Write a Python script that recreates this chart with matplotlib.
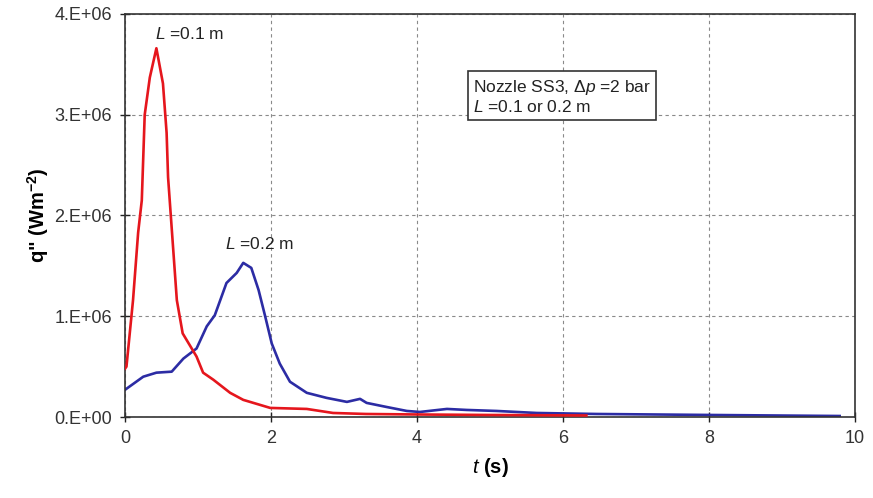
import matplotlib
matplotlib.use("Agg")
import matplotlib.pyplot as plt

plt.rcParams['font.family'] = ['Liberation Sans', 'DejaVu Sans']
plt.rcParams['mathtext.fontset'] = 'custom'
plt.rcParams['mathtext.rm'] = 'Liberation Sans'
plt.rcParams['mathtext.it'] = 'Liberation Sans:italic'
plt.rcParams['mathtext.bf'] = 'Liberation Sans:bold'

# Heat flux histories, L = 0.1 m
t_short = [0.0, 0.02, 0.11, 0.18, 0.23, 0.27, 0.34, 0.43, 0.52, 0.57, 0.59,
           0.71, 0.79, 0.98, 1.07, 1.21, 1.44, 1.62, 1.99, 2.49, 2.85, 3.3,
           4.0, 5.0, 6.32]
q_short = [0.48e6, 0.5e6, 1.16e6, 1.83e6, 2.15e6, 3.0e6, 3.37e6, 3.66e6, 3.31e6,
           2.82e6, 2.38e6, 1.16e6, 0.83e6, 0.6e6, 0.44e6, 0.37e6, 0.24e6, 0.17e6,
           0.09e6, 0.08e6, 0.04e6, 0.03e6, 0.025e6, 0.02e6, 0.015e6]

# Heat flux histories, L = 0.2 m
t_long = [0.0, 0.25, 0.43, 0.64, 0.80, 0.98, 1.12, 1.23, 1.39, 1.53, 1.62,
          1.73, 1.83, 1.92, 2.01, 2.12, 2.26, 2.49, 2.76, 3.04, 3.22, 3.31,
          3.58, 3.86, 4.04, 4.41, 4.68, 5.09, 5.64, 6.46, 8.05, 9.79]
q_long = [0.27e6, 0.40e6, 0.44e6, 0.45e6, 0.58e6, 0.68e6, 0.9e6, 1.01e6, 1.33e6,
          1.43e6, 1.53e6, 1.48e6, 1.26e6, 1.0e6, 0.73e6, 0.53e6, 0.35e6, 0.24e6,
          0.19e6, 0.15e6, 0.18e6, 0.14e6, 0.10e6, 0.06e6, 0.05e6, 0.08e6, 0.07e6,
          0.06e6, 0.04e6, 0.03e6, 0.02e6, 0.01e6]

x_ticks = [0, 2, 4, 6, 8, 10]
y_ticks = [0, 1e6, 2e6, 3e6, 4e6]
y_tick_labels = ["0.E+00", "1.E+06", "2.E+06", "3.E+06", "4.E+06"]

fig = plt.figure(figsize=(8.73, 4.98), dpi=100)
ax = fig.add_axes([125 / 873, 1 - 417 / 498, 730 / 873, 403 / 498])

ax.plot(t_short, q_short, color="#e5161d", lw=1.9, zorder=3)
ax.plot(t_long, q_long, color="#2c2ca4", lw=1.9, zorder=2)

ax.set_xlim(0, 10)
ax.set_ylim(0, 4e6)
ax.set_xticks(x_ticks)
ax.set_yticks(y_ticks)
ax.set_yticklabels(y_tick_labels)
ax.grid(True, color="#8a8a8a", linestyle=(0, (3, 3)), lw=0.8)
ax.set_axisbelow(True)
ax.tick_params(direction="inout", length=7, width=1, labelsize=13,
               colors="#222222", labelcolor="#333333")
ax.tick_params(axis="y", pad=6)
ax.tick_params(axis="x", pad=6)
for s in ax.spines.values():
    s.set_color("#333333")
    s.set_linewidth(1.2)

ax.set_xlabel(r"$\mathbf{\mathit{t}}$ (s)", fontsize=14.5, fontweight="bold",
              labelpad=6)
ax.set_ylabel(r'q" (Wm$^{\mathbf{-2}}$)', fontsize=14.5, fontweight="bold",
              labelpad=2)

ax.text(0.41, 3.8e6, r"$\mathit{L}$ =0.1 m", fontsize=12.5, color="#222222",
        va="center")
ax.text(1.37, 1.72e6, r"$\mathit{L}$ =0.2 m", fontsize=12.5, color="#222222",
        va="center")
ax.text(4.77, 3.18e6, "Nozzle SS3, $\\mathit{\\Delta p}$ =2 bar\n$\\mathit{L}$ =0.1 or 0.2 m",
        fontsize=12.5, color="#222222", va="center", linespacing=1.1,
        bbox=dict(boxstyle="square,pad=0.3", fc="white", ec="#333333", lw=1.2))

fig.savefig("out.png", dpi=100)
